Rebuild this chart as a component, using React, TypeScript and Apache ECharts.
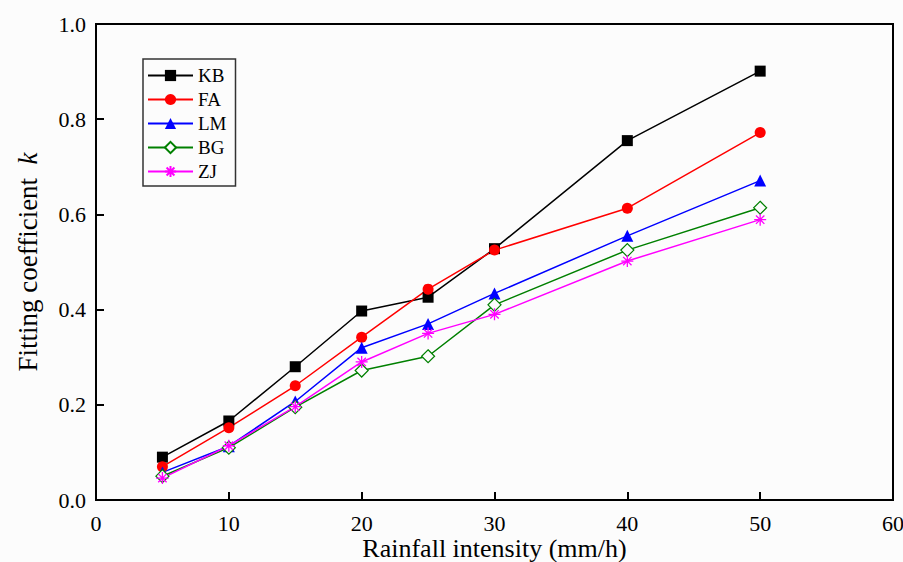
import React, { useEffect, useRef } from "react";
import * as echarts from "echarts";

const xValues = [5, 10, 15, 20, 25, 30, 40, 50];
const kbValues = [0.09, 0.166, 0.28, 0.397, 0.426, 0.528, 0.755, 0.901];
const faValues = [0.07, 0.152, 0.24, 0.342, 0.443, 0.525, 0.613, 0.772];
const lmValues = [0.058, 0.113, 0.207, 0.32, 0.37, 0.434, 0.555, 0.671];
const bgValues = [0.05, 0.11, 0.195, 0.272, 0.302, 0.41, 0.525, 0.614];
const zjValues = [0.046, 0.114, 0.196, 0.29, 0.35, 0.39, 0.502, 0.589];
const seriesNames = ["KB", "FA", "LM", "BG", "ZJ"];

const FONT = "'Liberation Serif', 'Times New Roman', serif";
const BG = "#fcfcfc";
const starPath =
  "path://M5,0L5,10M0,5L10,5M1.5,1.5L8.5,8.5M1.5,8.5L8.5,1.5";

export default function App() {
  const ref = useRef<HTMLDivElement>(null);
  useEffect(() => {
    if (!ref.current) return;
    const chart = echarts.init(ref.current, null, { renderer: "svg" });
    const mk = (arr: number[]) => xValues.map((x, i) => [x, arr[i]]);
    const base = (name: string, data: number[], color: string) => ({
      name,
      type: "line",
      data: mk(data),
      lineStyle: { color, width: 1.5 },
      itemStyle: { color },
      symbolSize: 11,
      z: 3,
    });
    chart.setOption({
      animation: false,
      backgroundColor: BG,
      textStyle: { fontFamily: FONT },
      grid: {
        left: 96,
        top: 24,
        right: 10,
        bottom: 62,
        containLabel: false,
        outerBoundsMode: "none",
        show: true,
        borderColor: "#000",
        borderWidth: 2,
        backgroundColor: "transparent",
      },
      legend: {
        orient: "vertical",
        left: 143,
        top: 59,
        padding: [7, 9, 5, 4],
        itemWidth: 45,
        itemHeight: 14,
        itemGap: 5,
        borderColor: "#333",
        borderWidth: 1.5,
        backgroundColor: BG,
        textStyle: { fontFamily: FONT, fontSize: 19, color: "#000" },
        data: seriesNames,
      },
      xAxis: {
        type: "value",
        min: 0,
        max: 60,
        interval: 10,
        name: "Rainfall intensity (mm/h)",
        nameLocation: "middle",
        nameMoveOverlap: false,
        nameGap: 35,
        nameTextStyle: { fontFamily: FONT, fontSize: 26, color: "#000", verticalAlign: "top" },
        axisLine: { lineStyle: { color: "#000", width: 2 } },
        axisTick: { inside: true, length: 8, lineStyle: { color: "#000", width: 2 } },
        axisLabel: { fontFamily: FONT, fontSize: 22, color: "#000", margin: 12 },
        splitLine: { show: false },
      },
      yAxis: {
        type: "value",
        min: 0,
        max: 1,
        interval: 0.2,
        name: "Fitting coefficient  {i|k}",
        nameLocation: "middle",
        nameMoveOverlap: false,
        nameRotate: 90,
        nameGap: 55,
        nameTextStyle: {
          fontFamily: FONT,
          fontSize: 27,
          color: "#000",
          rich: { i: { fontFamily: FONT, fontSize: 27, fontStyle: "italic", color: "#000" } },
        },
        axisLine: { lineStyle: { color: "#000", width: 2 } },
        axisTick: { inside: true, length: 8, lineStyle: { color: "#000", width: 2 } },
        axisLabel: {
          fontFamily: FONT,
          fontSize: 22,
          color: "#000",
          margin: 10,
          formatter: (v: number) => v.toFixed(1),
        },
        splitLine: { show: false },
      },
      series: [
        { ...base("KB", kbValues, "#000000"), symbol: "rect" },
        { ...base("FA", faValues, "#ff0000"), symbol: "circle" },
        { ...base("LM", lmValues, "#0000ff"), symbol: "triangle", symbolSize: 12 },
        {
          ...base("BG", bgValues, "#008000"),
          symbol: "diamond",
          symbolSize: 13,
          itemStyle: { color: BG, borderColor: "#008000", borderWidth: 1.2 },
        },
        {
          ...base("ZJ", zjValues, "#ff00ff"),
          symbol: starPath,
          symbolSize: 12,
          itemStyle: { color: "none", borderColor: "#ff00ff", borderWidth: 1.3 },
        },
      ],
    });
    return () => chart.dispose();
  }, []);
  return (
    <div
      ref={ref}
      style={{ position: "fixed", left: 0, top: 0, width: 903, height: 562 }}
    />
  );
}
